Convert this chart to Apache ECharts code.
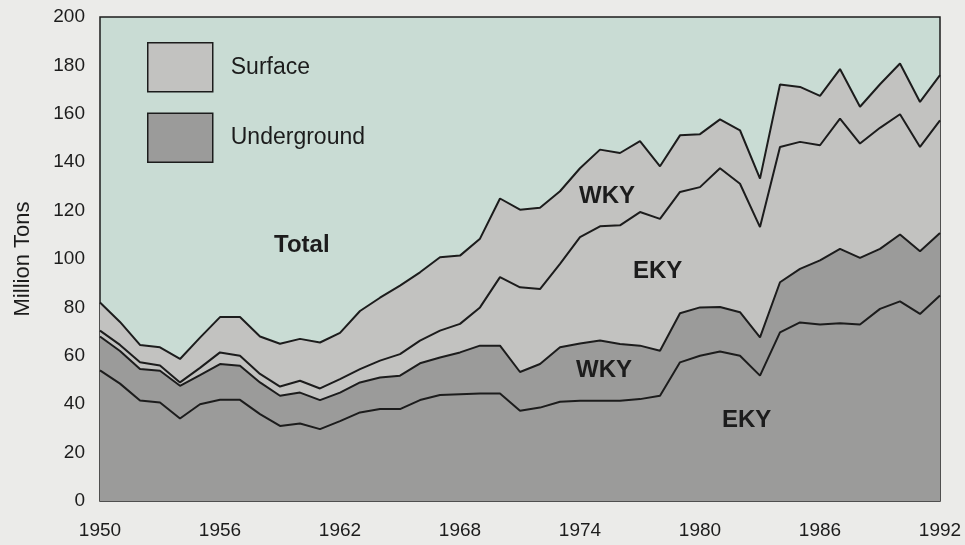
<!DOCTYPE html>
<html lang="en">
<head>
    <meta charset="utf-8">
    <title>Kentucky Coal Production</title>
    <script src="https://cdn.jsdelivr.net/npm/echarts@6/dist/echarts.min.js"></script>
    <style>
        html, body { margin: 0; padding: 0; background: #ebebe9; }
    </style>
</head>
<body>
<div id="main" style="width:965px;height:545px"></div>
<script type="text/javascript">
    // years 1950 - 1992
    var years = [];
    for (var y = 1950; y <= 1992; y++) {
        years.push(String(y));
    }

    // million tons (stacked bottom -> top)
    var ugEKY = [54, 48.5, 41.5, 40.7, 34.1, 40, 41.8, 41.8, 35.9, 31, 32, 29.7, 33, 36.6, 38, 38, 41.7, 43.8, 44.1, 44.4,
        44.4, 37.3, 38.6, 41, 41.4, 41.4, 41.4, 42.1, 43.5, 57.3, 60, 61.8, 60, 51.8, 69.7, 73.8, 72.9, 73.4, 72.9, 79.4,
        82.5, 77.3, 84.9];
    var ugWKY = [14, 13.5, 13, 13.1, 13.5, 12, 14.8, 14.1, 13.1, 12.5, 12.8, 12, 11.8, 12.4, 13, 13.8, 15.2, 15.5, 17.3, 19.8,
        19.8, 16, 18, 22.5, 23.7, 24.9, 23.5, 22.1, 18.6, 20.3, 20, 18.4, 18, 15.8, 20.7, 22.1, 26.5, 30.8, 27.6, 24.8,
        27.6, 25.9, 25.8];
    var surfEKY = [2.4, 2.5, 2.8, 2.2, 1.4, 3, 4.8, 4.1, 3.5, 3.8, 4.9, 4.8, 5.6, 5.5, 7, 8.9, 9.4, 11.1, 11.8, 15.8,
        28.3, 35, 31, 34.5, 43.9, 47.2, 49, 55.2, 54.5, 50.1, 49.7, 57.3, 53.1, 45.6, 55.9, 52.5, 47.6, 53.8, 47.2, 50,
        49.7, 43.1, 46.6];
    var surfWKY = [11.6, 9.5, 7.2, 7.5, 9.7, 12.5, 14.6, 16, 15.5, 17.7, 17.3, 19, 19.1, 24, 26, 28.3, 28.2, 30.3, 28.2, 28.4,
        32.5, 32.1, 33.6, 30, 28.5, 31.7, 29.9, 29.3, 21.7, 23.4, 21.9, 20.2, 22.1, 20, 25.8, 22.7, 20.4, 20.5, 15.2, 18,
        21, 18.6, 18.7];

    var surfaceColor = '#c2c2c0';
    var undergroundColor = '#9b9b9a';
    var inkColor = '#1c1c1c';
    var font = 'Liberation Sans, Arial, Helvetica, sans-serif';

    function areaSeries(name, data, color) {
        return {
            name: name,
            type: 'line',
            stack: 'total',
            data: data,
            showSymbol: false,
            symbol: 'none',
            silent: true,
            itemStyle: { color: color },
            lineStyle: { color: inkColor, width: 2 },
            areaStyle: { color: color, opacity: 1 }
        };
    }

    // in-plot labels
    function tag(text, x, y) {
        return {
            type: 'text',
            left: x,
            top: y,
            z: 100,
            style: {
                text: text,
                fill: inkColor,
                font: 'bold 24px ' + font
            }
        };
    }

    var myChart = echarts.init(document.getElementById('main'));
    var option = {
        backgroundColor: '#ebebe9',
        animation: false,
        grid: {
            left: 100,
            right: 25,
            top: 17,
            bottom: 44,
            show: true,
            backgroundColor: '#c9dcd4',
            borderColor: inkColor,
            borderWidth: 1.5,
            containLabel: false
        },
        legend: {
            data: ['Surface', 'Underground'],
            orient: 'vertical',
            left: 147,
            top: 42,
            padding: 0,
            icon: 'rect',
            itemWidth: 65,
            itemHeight: 49,
            itemGap: 20,
            itemStyle: { borderColor: inkColor, borderWidth: 1.5 },
            textStyle: {
                fontSize: 23,
                fontFamily: font,
                color: inkColor,
                padding: [0, 0, 0, 13]
            }
        },
        xAxis: {
            type: 'category',
            data: years,
            boundaryGap: false,
            axisLine: { show: false },
            axisTick: { show: false },
            splitLine: { show: false },
            axisLabel: {
                interval: 5,
                margin: 20,
                fontSize: 19,
                fontFamily: font,
                color: inkColor
            }
        },
        yAxis: {
            type: 'value',
            min: 0,
            max: 200,
            interval: 20,
            name: 'Million Tons',
            nameLocation: 'middle',
            nameGap: 66,
            nameTextStyle: { fontSize: 22, fontFamily: font, color: inkColor },
            axisLine: { show: false },
            axisTick: { show: false },
            splitLine: { show: false },
            axisLabel: {
                margin: 15,
                fontSize: 19,
                fontFamily: font,
                color: inkColor
            }
        },
        series: [
            areaSeries('Underground', ugEKY, undergroundColor),
            areaSeries('Underground', ugWKY, undergroundColor),
            areaSeries('Surface', surfEKY, surfaceColor),
            areaSeries('Surface', surfWKY, surfaceColor)
        ],
        graphic: [
            tag('Total', 274, 233),
            tag('WKY', 579, 184),
            tag('EKY', 633, 259),
            tag('WKY', 576, 358),
            tag('EKY', 722, 408)
        ]
    };
    myChart.setOption(option);
</script>
</body>
</html>
